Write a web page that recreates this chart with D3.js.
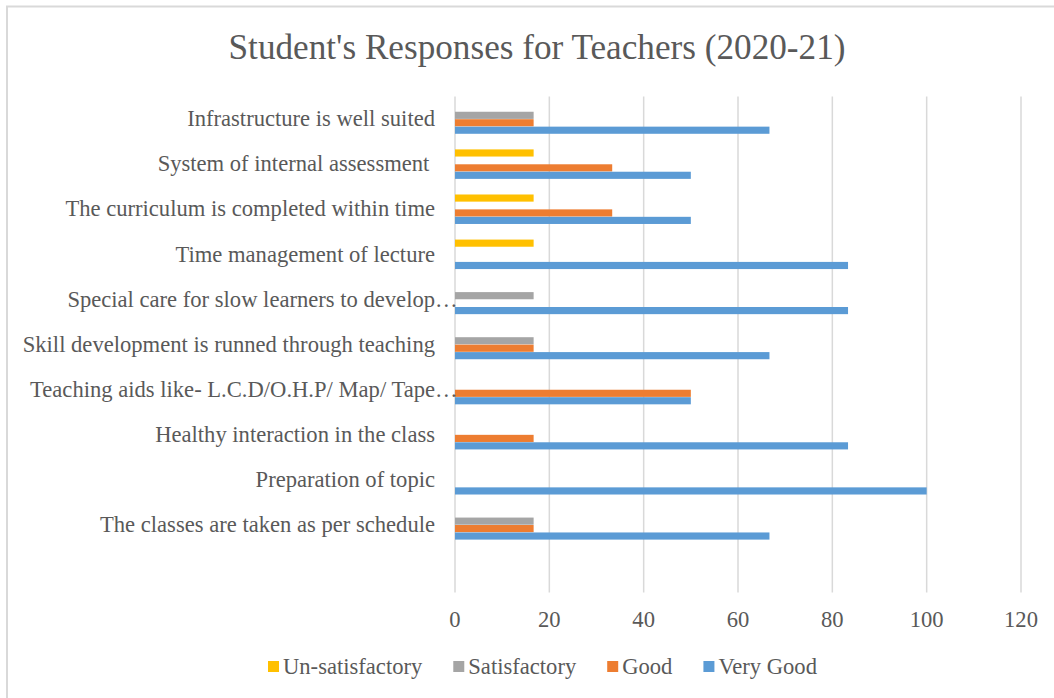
<!DOCTYPE html>
<html>
<head>
<meta charset="utf-8">
<script src="https://cdn.jsdelivr.net/npm/d3@7"></script>
<style>
  html, body { margin: 0; padding: 0; background: #fff; }
  svg { display: block; }
  text { font-family: "Liberation Serif", "Times New Roman", serif; fill: #595959; white-space: pre; }
</style>
</head>
<body>
<svg id="chart" width="1054" height="698"></svg>
<script>
// ---- data (categories listed bottom to top as in the picture) ----
const categories = [
  "The classes are taken as per schedule",
  "Preparation of topic",
  "Healthy interaction in the class",
  "Teaching aids like- L.C.D/O.H.P/ Map/ Tape…",
  "Skill development is runned through teaching",
  "Special care for slow learners to develop…",
  "Time management of lecture",
  "The curriculum is completed within time",
  "System of internal assessment ",
  "Infrastructure is well suited"
];
const seriesNames = ["Un-satisfactory", "Satisfactory", "Good", "Very Good"];
const unSatisfactory = [0, 0, 0, 0, 0, 0, 16.67, 16.67, 16.67, 0];
const satisfactory   = [16.67, 0, 0, 0, 16.67, 16.67, 0, 0, 0, 16.67];
const good           = [16.67, 0, 16.67, 50, 16.67, 0, 0, 33.33, 33.33, 16.67];
const veryGood       = [66.67, 100, 83.33, 50, 66.67, 83.33, 83.33, 50, 50, 66.67];
const xTicks = [0, 20, 40, 60, 80, 100, 120];
const title = "Student's Responses for Teachers (2020-21)";
const colors = ["#FFC000", "#A5A5A5", "#ED7D31", "#5B9BD5"];

const seriesValues = [unSatisfactory, satisfactory, good, veryGood];

// ---- layout ----
const svg = d3.select("#chart");
const plotTop = 96.5, plotBottom = 592.5, plotLeft = 455, plotRight = 1021;
const step = (plotBottom - plotTop) / (categories.length + 1);
const fs = "22.6px";

// border (top and left visible)
svg.append("path")
  .attr("d", "M7,698 L7,6.5 L1054,6.5")
  .attr("fill", "none").attr("stroke", "#D9D9D9").attr("stroke-width", 2);

// title
svg.append("text")
  .attr("x", 537).attr("y", 59)
  .attr("text-anchor", "middle")
  .style("font-size", "35.2px")
  .text(title);

const x = d3.scaleLinear().domain([0, 120]).range([plotLeft, plotRight]);
const topToBottom = categories.slice().reverse();
const y = d3.scaleBand().domain(topToBottom)
  .range([plotTop, plotTop + step * categories.length]).padding(0);
const groupH = step * 0.667;
const sub = d3.scaleBand().domain(seriesNames)
  .range([(step - groupH) / 2, (step + groupH) / 2]).padding(0.04);

// gridlines
svg.append("g").selectAll("line").data(xTicks).join("line")
  .attr("x1", d => x(d)).attr("x2", d => x(d))
  .attr("y1", plotTop).attr("y2", plotBottom)
  .attr("stroke", "#D9D9D9").attr("stroke-width", 1.5);

// bars
const rows = [];
categories.forEach((c, i) => {
  seriesNames.forEach((s, j) => {
    rows.push({ cat: c, series: s, value: seriesValues[j][i], color: colors[j] });
  });
});
svg.append("g").selectAll("rect").data(rows.filter(r => r.value > 0)).join("rect")
  .attr("x", x(0))
  .attr("y", d => y(d.cat) + sub(d.series))
  .attr("width", d => x(d.value) - x(0))
  .attr("height", sub.bandwidth())
  .attr("fill", d => d.color);

// category labels
const labelG = svg.append("g");
categories.forEach(c => {
  const truncated = c.endsWith("…");
  const base = truncated ? c.slice(0, -1) : c;
  const cy = y(c) + step / 2;
  labelG.append("text")
    .attr("x", 435).attr("y", cy).attr("dy", "0.32em")
    .attr("text-anchor", "end")
    .style("font-size", fs)
    .text(base);
  if (truncated) {
    labelG.append("text")
      .attr("x", 435).attr("y", cy).attr("dy", "0.32em")
      .attr("text-anchor", "start")
      .style("font-size", fs)
      .text("…");
  }
});

// x tick labels
svg.append("g").selectAll("text").data(xTicks).join("text")
  .attr("x", d => x(d)).attr("y", 627)
  .attr("text-anchor", "middle")
  .style("font-size", fs)
  .text(d => d);

// legend
const legend = svg.append("g");
let lx = 268;
seriesNames.forEach((s, j) => {
  legend.append("rect")
    .attr("x", lx).attr("y", 661).attr("width", 11).attr("height", 11)
    .attr("fill", colors[j]);
  const t = legend.append("text")
    .attr("x", lx + 15).attr("y", 674)
    .style("font-size", fs)
    .text(s);
  lx += 15 + t.node().getComputedTextLength() + 31;
});
</script>
</body>
</html>
